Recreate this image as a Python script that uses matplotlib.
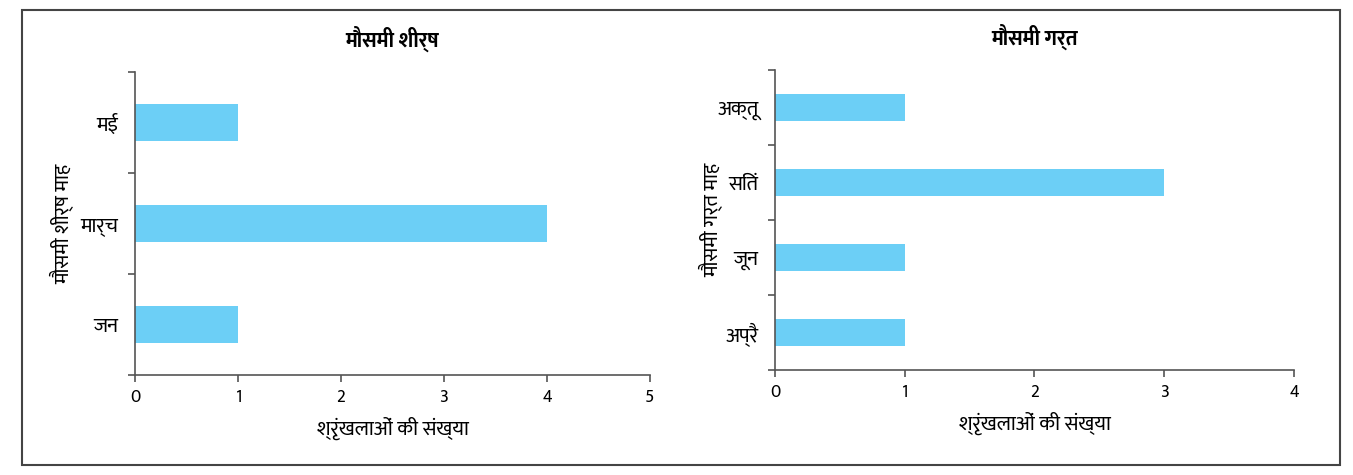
import matplotlib
matplotlib.use("Agg")
import matplotlib.pyplot as plt
from matplotlib.patches import Rectangle
from matplotlib.ticker import FixedLocator, NullFormatter

plt.rcParams['font.family'] = ['Mukta', 'Ek Mukta', 'Hind', 'Noto Sans Devanagari', 'DejaVu Sans']

# data (bottom to top)
peak_months = ['जन', 'मार्च', 'मई']
peak_counts = [1, 4, 1]
trough_months = ['अप्रै', 'जून', 'सितं', 'अक्तू']
trough_counts = [1, 1, 3, 1]

peak_title = 'मौसमी शीर्ष'
trough_title = 'मौसमी गर्त'
peak_ylabel = 'मौसमी शीर्ष माह'
trough_ylabel = 'मौसमी गर्त माह'
xlabel = 'श्रृंखलाओं की संख्या'

bar_color = '#6CCFF6'
axis_color = '#555555'

fig = plt.figure(figsize=(13.53, 4.75), dpi=100)
fig.patches.append(Rectangle((22 / 1353, 10 / 475), 1318 / 1353, 455 / 475,
                             transform=fig.transFigure, fill=False,
                             edgecolor='#444444', linewidth=1.5))

ax1 = fig.add_axes([135 / 1353, 1 - 375 / 475, 515 / 1353, 303 / 475])
ax2 = fig.add_axes([775 / 1353, 1 - 370 / 475, 519 / 1353, 300 / 475])


def draw(ax, months, counts, xmax, title, ylabel, ylab_x):
    pos = list(range(len(months)))
    ax.barh(pos, counts, height=0.36, color=bar_color)
    ax.set_ylim(-0.5, len(months) - 0.5)
    ax.set_xlim(0, xmax)
    ax.set_yticks(pos)
    ax.set_yticklabels(months, fontsize=15)
    ax.yaxis.set_minor_locator(FixedLocator([p - 0.5 for p in pos] + [len(months) - 0.5]))
    ax.yaxis.set_minor_formatter(NullFormatter())
    ax.tick_params(axis='y', which='major', length=0, pad=12)
    ax.tick_params(axis='y', which='minor', length=5, color=axis_color, width=1.2)
    ax.set_xticks(range(xmax + 1))
    ax.tick_params(axis='x', length=5, color=axis_color, width=1.2, labelsize=13, pad=5)
    for s in ['top', 'right']:
        ax.spines[s].set_visible(False)
    for s in ['left', 'bottom']:
        ax.spines[s].set_color(axis_color)
        ax.spines[s].set_linewidth(1.2)
    ax.set_title(title, fontsize=15, fontweight='bold', pad=18)
    ax.set_xlabel(xlabel, fontsize=15, labelpad=8)
    ax.set_ylabel(ylabel, fontsize=15)
    ax.yaxis.set_label_coords(ylab_x, 0.5)


draw(ax1, peak_months, peak_counts, 5, peak_title, peak_ylabel, -0.118)
draw(ax2, trough_months, trough_counts, 4, trough_title, trough_ylabel, -0.1)

fig.savefig('out.png', dpi=100)
